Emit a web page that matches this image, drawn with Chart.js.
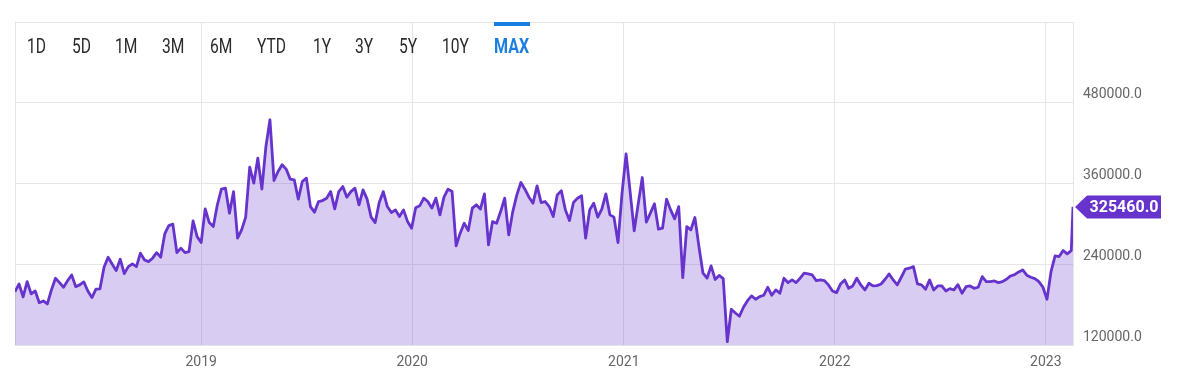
<!DOCTYPE html>
<html><head><meta charset="utf-8">
<script src="https://cdn.jsdelivr.net/npm/chart.js@4/dist/chart.umd.min.js"></script>
<style>
html,body{margin:0;padding:0;background:#fff;}
#wrap{position:relative;width:1188px;height:379px;overflow:hidden;}
#c{position:absolute;left:0;top:0;}
.btn{position:absolute;top:34px;font-family:Roboto,sans-serif;font-size:20px;line-height:24px;color:#2b2b2b;transform:scaleX(0.78);transform-origin:left center;white-space:nowrap;}
.btn.active{color:#1a7fe0;font-weight:bold;transform:scaleX(0.8);}
#bar{position:absolute;left:494px;top:22px;width:36px;height:4px;background:#1a7fe0;}
</style></head>
<body>
<div id="wrap">
<canvas id="c" width="1188" height="379"></canvas>
<div id="buttons"></div>
<div id="bar"></div>
</div>
<script>
// ---- data (weekly closes) ----
const close2018 = [199300,210700,191400,214200,195900,200300,182900,185500,181000,201800,
219200,212700,205800,215700,224100,206700,209300,213700,200300,190400,
202900,203500,235600,250500,240500,230500,247500,226100,236500,240500,
236500,256400,246400,243900,249000,257300,250500,285100,297500,299600,
257300,263900,257300,258800,304500,281100];
const close2019 = [272200,322300,301900,296000,328300,351600,353100,315900,348000,278700,
291100,310000,384300,360500,397700,351600,415000,454700,364400,377800,
387800,381400,366500,365500,336700,362900,368000,325700,317400,333200,
334700,338200,348000,322300,348000,355500,339700,348000,353100,328300,
350600,336700,310000,301900,331700,348000,325700,316800,320800,310900,
320800,303400,293600];
const close2020 = [324100,326800,338200,333200,323400,338200,313400,339700,351600,348000,
267300,286200,301000,290000,323400,328300,321900,344600,268800,303400,
301000,318300,338200,283600,318300,343100,361400,351600,339700,330800,
356500,331700,333200,325700,310900,343100,349100,320800,304900,331700,
338200,341700,278700,320800,330800,310000,321900,344600,313400,310000,
272200,345700];
const close2021 = [404100,347600,289600,329800,368900,302500,315900,329800,292100,293600,
336700,320800,307400,325700,220100,296000,291100,309400,266200,226700,
219200,237500,217400,223400,218600,124900,173100,167600,162700,176100,
185900,192900,188000,191900,193900,205800,193900,201800,196900,219200,
212700,216700,212700,219200,226700,225600,224100,215700,216700,215700,
209300,200300];
const close2022 = [197800,210700,216700,204300,207800,219200,209300,201800,211800,207800,
208200,210700,217700,225600,216700,209300,220700,232600,234100,236500,
210700,209300,202900,216700,201800,207800,207800,200300,203800,201800,
209700,196900,206700,207800,204300,205800,221600,214200,214200,215200,
212700,214200,217700,222600,224600,228600,231600,223700,220700,218600,
214200,205800];
const close2023 = [188000,229000,252400,251400,260300,255400,260300];
const firstWeek = '2018-02-13';
const latestDate = '2023-02-17';
const latestClose = 325460;
const yearTicks = [2019, 2020, 2021, 2022, 2023];
const priceTicks = [120000, 240000, 360000, 480000, 600000];
const rangeButtons = ['1D','5D','1M','3M','6M','YTD','1Y','3Y','5Y','10Y','MAX'];
const activeRange = 'MAX';

// ---- build ----
const PURPLE = 'rgb(102,51,204)';
const DAY = 86400000;
const t0 = Date.parse(firstWeek + 'T00:00:00Z');
const weekly = [...close2018, ...close2019, ...close2020, ...close2021, ...close2022, ...close2023];
const points = weekly.map((v, i) => ({x: t0 + i * 7 * DAY, y: v}));
points.push({x: Date.parse(latestDate + 'T00:00:00Z'), y: latestClose});
const xMin = points[0].x, xMax = points[points.length - 1].x;
const yearStarts = yearTicks.map(y => Date.UTC(y, 0, 1));

// buttons (layout)
const buttonLeft = [27, 72, 115, 162, 210, 257, 313, 355, 399, 442, 494];
const bwrap = document.getElementById('buttons');
rangeButtons.forEach((t, i) => {
  const d = document.createElement('div');
  d.className = 'btn' + (t === activeRange ? ' active' : '');
  d.style.left = buttonLeft[i] + 'px';
  d.textContent = t;
  bwrap.appendChild(d);
});

const lastTag = {
  id: 'lastTag',
  afterDraw(chart) {
    const {ctx, chartArea, scales: {y}} = chart;
    const py = Math.round(y.getPixelForValue(latestClose));
    const tip = chartArea.right + 2, bx = tip + 12, bw = 74, bh = 23;
    ctx.save();
    ctx.fillStyle = PURPLE;
    ctx.beginPath();
    ctx.moveTo(tip, py);
    ctx.lineTo(bx, py - bh / 2);
    ctx.lineTo(bx + bw, py - bh / 2);
    ctx.lineTo(bx + bw, py + bh / 2);
    ctx.lineTo(bx, py + bh / 2);
    ctx.closePath();
    ctx.fill();
    ctx.fillStyle = '#fff';
    ctx.font = 'bold 16px Roboto';
    ctx.textAlign = 'center';
    ctx.textBaseline = 'middle';
    ctx.fillText(latestClose.toFixed(1), bx + bw / 2, py + 1);
    ctx.restore();
  }
};

new Chart(document.getElementById('c'), {
  type: 'line',
  data: {
    datasets: [{
      data: points,
      borderColor: PURPLE,
      borderWidth: 2.8,
      backgroundColor: 'rgba(102,51,204,0.25)',
      fill: 'start',
      pointRadius: 0,
      tension: 0,
      borderJoinStyle: 'round'
    }]
  },
  options: {
    responsive: false,
    devicePixelRatio: 1,
    animation: false,
    layout: {padding: {left: 15, top: 22, right: 0, bottom: 0}},
    plugins: {legend: {display: false}, tooltip: {enabled: false}},
    scales: {
      x: {
        type: 'linear',
        min: xMin, max: xMax,
        afterBuildTicks(s) { s.ticks = [xMin, ...yearStarts, xMax].map(v => ({value: v})); },
        afterFit(s) { s.height = 34; },
        grid: {color: '#e6e6e6', lineWidth: 1, drawTicks: false},
        border: {display: true, color: '#e2e2e2'},
        ticks: {
          autoSkip: false, maxRotation: 0, padding: 9,
          color: '#666', font: {family: 'Roboto', size: 14},
          callback(v) { const i = yearStarts.indexOf(v); return i >= 0 ? String(yearTicks[i]) : ''; }
        }
      },
      y: {
        position: 'right',
        min: 120000, max: 600000,
        afterBuildTicks(s) { s.ticks = priceTicks.map(v => ({value: v})); },
        afterFit(s) { s.width = 115; },
        grid: {color: '#e6e6e6', lineWidth: 1, drawTicks: false},
        border: {display: true, color: '#e6e6e6'},
        ticks: {
          padding: 10, labelOffset: -8,
          color: '#666', font: {family: 'Roboto', size: 14},
          callback(v) { return v === 600000 ? '' : v.toFixed(1); }
        }
      }
    }
  },
  plugins: [lastTag]
});
</script>
</body></html>
